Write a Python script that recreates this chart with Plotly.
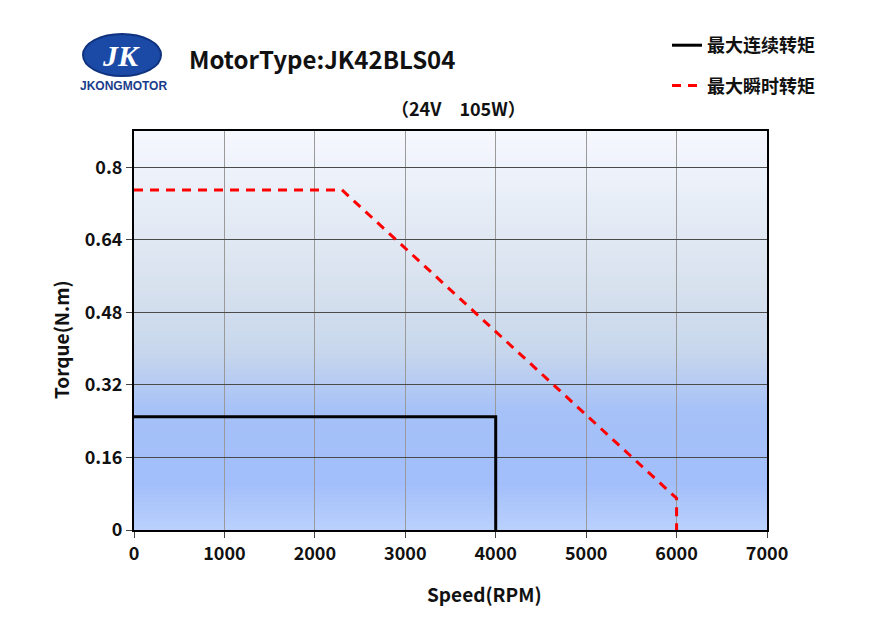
import plotly.graph_objects as go

# ---- data ----
cont_speed = [0, 4000, 4000]
cont_torque = [0.25, 0.25, 0]
peak_speed = [0, 2300, 6000, 6000]
peak_torque = [0.75, 0.75, 0.07, 0]
x_ticks = [0, 1000, 2000, 3000, 4000, 5000, 6000, 7000]
y_ticks = [0, 0.16, 0.32, 0.48, 0.64, 0.8]
y_ticklabels = ["0", "0.16", "0.32", "0.48", "0.64", "0.8"]
series_names = ["最大连续转矩", "最大瞬时转矩"]
x_title = "Speed(RPM)"
y_title = "Torque(N.m)"

FONT = "Noto Sans CJK SC"
OFF = 8  # page body margin
W, H = 880 - OFF, 627 - OFF
L, R, T, B = 134, 767, 131, 530  # reference pixel coords of plot area

def px(xp):
    return (xp - L) / (R - L)

def py(yp):
    return (B - yp) / (B - T)

fig = go.Figure()
fig.add_trace(go.Scatter(x=cont_speed, y=cont_torque, mode="lines",
                         name=series_names[0], legendgroup="a",
                         line=dict(color="black", width=3)))
fig.add_trace(go.Scatter(x=peak_speed, y=peak_torque, mode="lines",
                         name=series_names[1], legendgroup="b",
                         line=dict(color="#ff0000", width=3, dash="9px,7px")))

# gradient background strips
stops = [(0.0, (186, 209, 252)), (0.12, (162, 190, 251)), (0.3, (166, 193, 247)),
         (0.45, (200, 215, 236)), (0.62, (216, 226, 238)), (0.82, (231, 237, 247)),
         (1.0, (246, 248, 254))]

def col(t):
    for i in range(len(stops) - 1):
        a, ca = stops[i]
        b, cb = stops[i + 1]
        if a <= t <= b:
            f = (t - a) / (b - a)
            c = [round(ca[k] + (cb[k] - ca[k]) * f) for k in range(3)]
            return "rgb(%d,%d,%d)" % tuple(c)
    return "rgb(246,248,254)"

N = 100
shapes = []
for i in range(N):
    shapes.append(dict(type="rect", xref="x domain", yref="y domain",
                       x0=0, x1=1, y0=i / N, y1=(i + 1) / N + 0.002,
                       fillcolor=col((i + 0.5) / N), line=dict(width=0),
                       layer="below"))

# logo ellipse
shapes.append(dict(type="circle", xref="paper", yref="paper",
                   x0=px(83), x1=px(161), y0=py(76), y1=py(34),
                   fillcolor="#1b4aa6", line=dict(color="#0f3380", width=2)))

fig.update_layout(shapes=shapes)

annotations = [
    dict(text="<i>JK</i>", x=px(121), y=py(55), xref="paper", yref="paper",
         xanchor="center", yanchor="middle",
         showarrow=False, font=dict(family="Liberation Serif", size=30, color="white", weight="bold")),
    dict(text="JKONGMOTOR", x=px(123), y=py(86), xref="paper", yref="paper",
         xanchor="center", yanchor="middle",
         showarrow=False, font=dict(family="Liberation Sans", size=12, color="#1a3c8c", weight="bold")),
    dict(text="MotorType:JK42BLS04", x=px(187), y=py(58), xref="paper", yref="paper",
         xanchor="left", yanchor="middle", showarrow=False,
         font=dict(family=FONT, size=24, color="#111", weight="bold")),
    dict(text="（24V\u2003105W）", x=px(458), y=py(108), xref="paper", yref="paper",
         xanchor="center", yanchor="middle",
         showarrow=False, font=dict(family=FONT, size=18, color="#111", weight="bold")),
    dict(text=x_title, x=px(485), y=py(593), xref="paper", yref="paper",
         xanchor="center", yanchor="middle", showarrow=False,
         font=dict(family=FONT, size=19, color="#111", weight="bold")),
    dict(text=y_title, x=px(60), y=py(340), xref="paper", yref="paper",
         xanchor="center", yanchor="middle", showarrow=False, textangle=-90,
         font=dict(family=FONT, size=19, color="#111", weight="bold")),
]
fig.update_layout(annotations=annotations)

fig.update_layout(
    width=W, height=H,
    margin=dict(l=L - OFF, r=880 - R, t=T - OFF, b=627 - B),
    paper_bgcolor="white", plot_bgcolor="rgba(0,0,0,0)",
    font=dict(family=FONT, size=18, color="#111", weight="bold"),
    showlegend=True,
    legend=dict(x=px(667), y=py(27), xanchor="left", yanchor="top",
                bgcolor="rgba(0,0,0,0)", font=dict(family=FONT, size=18, weight="bold"),
                tracegroupgap=14, itemwidth=30),
)
fig.update_xaxes(range=[0, 7000], tickvals=x_ticks,
                 showgrid=True, gridcolor="#9a9a9a", gridwidth=1,
                 showline=True, linecolor="black", linewidth=2, mirror=True,
                 ticks="outside", ticklen=6, tickcolor="#444", tickwidth=1,
                 zeroline=False,
                 tickfont=dict(size=18, weight="bold"))
fig.update_yaxes(range=[0, 0.88], tickvals=y_ticks, ticktext=y_ticklabels,
                 showgrid=True, gridcolor="#4a4a4a", gridwidth=1.3,
                 showline=True, linecolor="black", linewidth=2, mirror=True,
                 ticks="outside", ticklen=6, tickcolor="#444", tickwidth=1,
                 zeroline=False,
                 tickfont=dict(size=18, weight="bold"))

fig.write_html("out.html")
